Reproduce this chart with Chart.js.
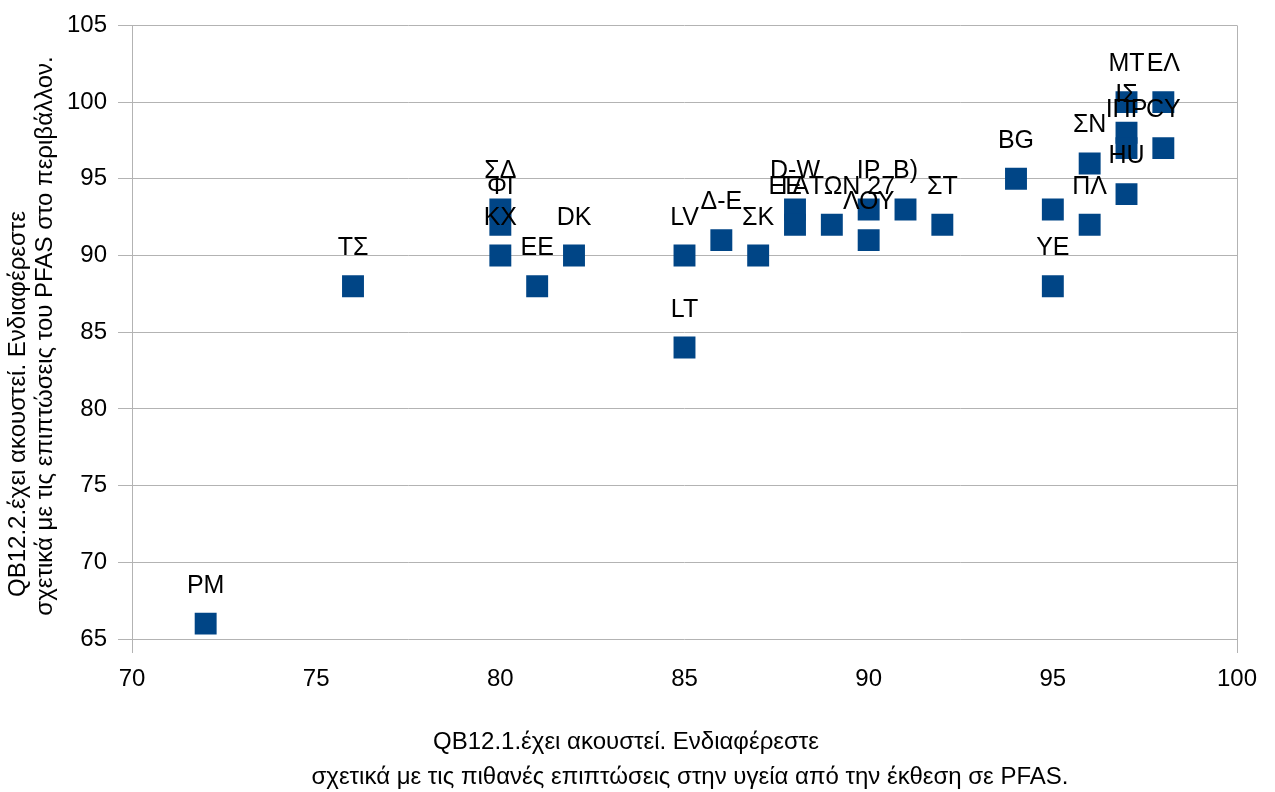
<!DOCTYPE html>
<html>
<head>
<meta charset="utf-8">
<script src="https://cdn.jsdelivr.net/npm/chart.js@4"></script>
<style>
  html, body { margin: 0; padding: 0; background: #fff; }
  #wrap { width: 1275px; height: 792px; }
</style>
</head>
<body>
<div id="wrap"><canvas id="myChart" width="1275" height="792"></canvas></div>
<script>
// country labels and their values (x = QB12.1, y = QB12.2)
const pointLabels = ['PM', 'ΤΣ', 'ΣΔ', 'ΦΙ', 'ΚΧ', 'ΕΕ', 'DK', 'LV', 'LT', 'Δ-Ε', 'ΣΚ',
  'D-W', 'ΓΑ', 'ΕΕ ΤΩΝ 27', 'ΙΡ', 'ΛΟΥ', 'Β)', 'ΣΤ', 'BG', 'ΥΕ', '', 'ΠΛ', 'ΣΝ',
  'ΜΤ', 'ΙΣ', 'ΙΠΡ', 'HU', 'ΕΛ', 'CY'];
const xValues = [72, 76, 80, 80, 80, 81, 82, 85, 85, 86, 87,
  88, 88, 89, 90, 90, 91, 92, 94, 95, 95, 96, 96,
  97, 97, 97, 97, 98, 98];
const yValues = [66, 88, 93, 92, 90, 88, 90, 90, 84, 91, 90,
  93, 92, 92, 93, 91, 93, 92, 95, 88, 93, 92, 96,
  100, 98, 97, 94, 100, 97];

const xTicks = [70, 75, 80, 85, 90, 95, 100];
const yTicks = [65, 70, 75, 80, 85, 90, 95, 100, 105];

const xTitle = ['QB12.1.έχει ακουστεί. Ενδιαφέρεστε',
  'σχετικά με τις πιθανές επιπτώσεις στην υγεία από την έκθεση σε PFAS.'];
const yTitle = ['QB12.2.έχει ακουστεί. Ενδιαφέρεστε',
  'σχετικά με τις επιπτώσεις του PFAS στο περιβάλλον.'];

const points = xValues.map((x, i) => ({ x: x, y: yValues[i] }));

// labels above each square
const pointLabelPlugin = {
  id: 'pointLabels',
  afterDatasetsDraw(chart) {
    const c = chart.ctx;
    const meta = chart.getDatasetMeta(0);
    c.save();
    c.font = '25px "Liberation Sans"';
    c.fillStyle = '#000';
    c.textAlign = 'center';
    c.textBaseline = 'alphabetic';
    meta.data.forEach((pt, i) => {
      c.fillText(pointLabels[i], pt.x, pt.y - 31);
    });
    c.restore();
  }
};

// axis titles (two lines each, like the original)
const axisTitlePlugin = {
  id: 'axisTitles',
  afterDraw(chart) {
    const c = chart.ctx;
    c.save();
    c.font = '24px "Liberation Sans"';
    c.fillStyle = '#000';
    c.textAlign = 'center';
    c.textBaseline = 'middle';
    c.fillText(xTitle[0], 626, 742);
    c.fillText(xTitle[1], 690, 777);

    c.translate(18, 404);
    c.rotate(-Math.PI / 2);
    c.fillText(yTitle[0], 0, 0);
    c.rotate(Math.PI / 2);
    c.translate(27, -68);
    c.rotate(-Math.PI / 2);
    c.fillText(yTitle[1], 0, 0);
    c.restore();
  }
};

const ctx = document.getElementById('myChart');

new Chart(ctx, {
  type: 'scatter',
  data: {
    datasets: [{
      label: 'QB12',
      data: points,
      pointStyle: 'rect',
      pointRadius: 15.5,
      pointHoverRadius: 15.5,
      backgroundColor: '#004586',
      borderColor: '#004586',
      borderWidth: 0
    }]
  },
  options: {
    responsive: false,
    animation: false,
    devicePixelRatio: 1,
    layout: { padding: { left: 0, right: 38, top: 24, bottom: 0 } },
    plugins: {
      legend: { display: false },
      tooltip: { enabled: false }
    },
    scales: {
      x: {
        type: 'linear',
        min: xTicks[0],
        max: xTicks[xTicks.length - 1],
        afterBuildTicks(scale) { scale.ticks = xTicks.map(v => ({ value: v })); },
        afterFit(scale) { scale.height = 153; },
        border: { display: false },
        grid: {
          color(c) {
            const v = c.tick ? c.tick.value : null;
            return (v === xTicks[0] || v === xTicks[xTicks.length - 1]) ? '#b3b3b3' : 'rgba(0,0,0,0)';
          },
          tickLength: 14,
          lineWidth: 1
        },
        ticks: {
          color: '#000',
          padding: 12,
          maxRotation: 0,
          font: { family: 'Liberation Sans', size: 24 }
        }
      },
      y: {
        type: 'linear',
        min: yTicks[0],
        max: yTicks[yTicks.length - 1],
        afterBuildTicks(scale) { scale.ticks = yTicks.map(v => ({ value: v })); },
        afterFit(scale) { scale.width = 132; },
        border: { display: false },
        grid: {
          color: '#b3b3b3',
          tickLength: 14,
          lineWidth: 1
        },
        ticks: {
          color: '#000',
          padding: 11,
          font: { family: 'Liberation Sans', size: 24 }
        }
      }
    }
  },
  plugins: [pointLabelPlugin, axisTitlePlugin]
});
</script>
</body>
</html>
